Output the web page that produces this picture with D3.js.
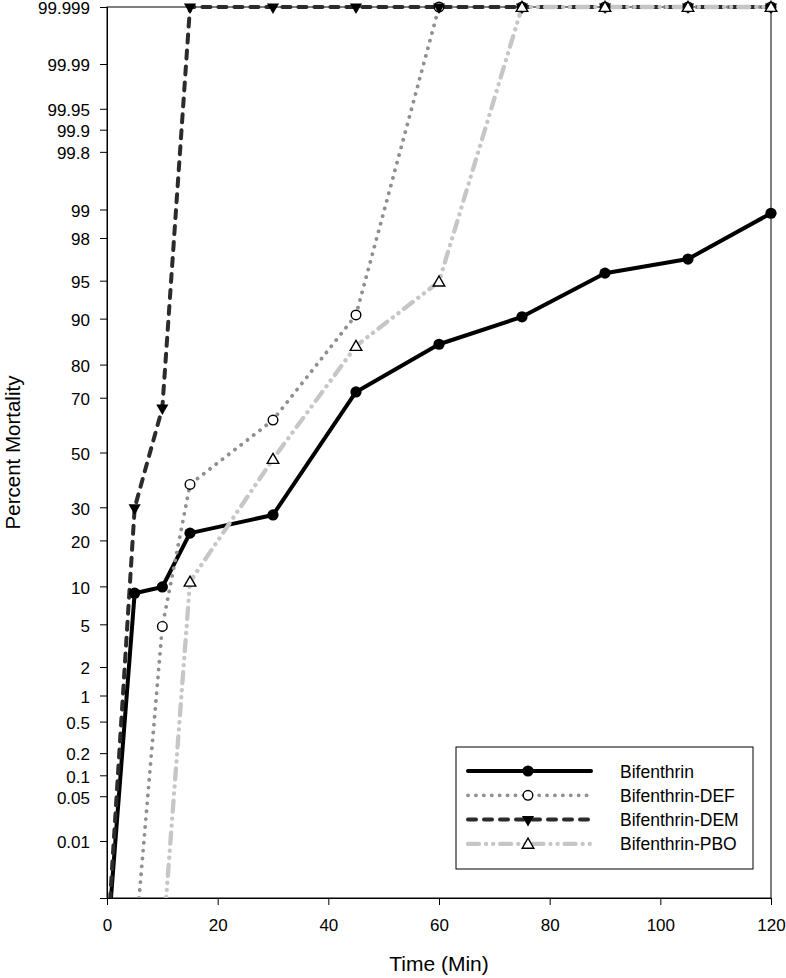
<!DOCTYPE html>
<html><head><meta charset="utf-8">
<script src="https://cdn.jsdelivr.net/npm/d3@7"></script>
<style>
body{margin:0;background:#fff;}
text{font-family:"Liberation Sans",Arial,sans-serif;fill:#000;}
</style></head><body>
<svg id="chart" width="786" height="978"></svg>
<script>
// ---- data ----
const times = [0, 5, 10, 15, 30, 45, 60, 75, 90, 105, 120];
const bifenthrin    = [0, 8.9, 9.9, 22.0, 27.5, 71.9, 85.0, 90.3, 95.7, 96.8, 98.9];
const bifenthrinDEF = [0, 0, 4.8, 38.0, 62.2, 90.6, 100, 100, 100, 100, 100];
const bifenthrinDEM = [0, 29.8, 66.5, 100, 100, 100, 100, 100, 100, 100, 100];
const bifenthrinPBO = [0, 0, 0, 10.8, 47.5, 84.6, 94.9, 100, 100, 100, 100];
const seriesNames = ["Bifenthrin", "Bifenthrin-DEF", "Bifenthrin-DEM", "Bifenthrin-PBO"];
const yTickLabels = ["0.01","0.05","0.1","0.2","0.5","1","2","5","10","20","30","50","70","80","90","95","98","99","99.8","99.9","99.95","99.99","99.999"];
const xTicks = [0, 20, 40, 60, 80, 100, 120];

// ---- probit helper (Acklam inverse normal CDF) ----
function probit(p){
  const a=[-3.969683028665376e+01,2.209460984245205e+02,-2.759285104469687e+02,1.383577518672690e+02,-3.066479806614716e+01,2.506628277459239e+00];
  const b=[-5.447609879822406e+01,1.615858368580409e+02,-1.556989798598866e+02,6.680131188771972e+01,-1.328068155288572e+01];
  const c=[-7.784894002430293e-03,-3.223964580411365e-01,-2.400758277161838e+00,-2.549732539343734e+00,4.374664141464968e+00,2.938163982698783e+00];
  const d=[7.784695709041462e-03,3.224671290700398e-01,2.445134137142996e+00,3.754408661907416e+00];
  const pl=0.02425, ph=1-pl;
  let q,r;
  if(p<pl){q=Math.sqrt(-2*Math.log(p));return (((((c[0]*q+c[1])*q+c[2])*q+c[3])*q+c[4])*q+c[5])/((((d[0]*q+d[1])*q+d[2])*q+d[3])*q+1);}
  if(p<=ph){q=p-0.5;r=q*q;return (((((a[0]*r+a[1])*r+a[2])*r+a[3])*r+a[4])*r+a[5])*q/(((((b[0]*r+b[1])*r+b[2])*r+b[3])*r+b[4])*r+1);}
  q=Math.sqrt(-2*Math.log(1-p));return -(((((c[0]*q+c[1])*q+c[2])*q+c[3])*q+c[4])*q+c[5])/((((d[0]*q+d[1])*q+d[2])*q+d[3])*q+1);
}
const pctMin = 0.001, pctMax = 99.999;   // axis limits (percent)
const zeroFloor = 0.0001, fullCap = 99.999; // how 0% and 100% are plotted
function toZ(pct){
  const v = pct <= 0 ? zeroFloor : (pct >= 100 ? fullCap : pct);
  return probit(v/100);
}

// ---- layout ----
const margin = {left:107, top:7, right:15, bottom:80};
const W = 786 - margin.left - margin.right;
const H = 978 - margin.top - margin.bottom;

const svg = d3.select("#chart");
const g = svg.append("g").attr("transform",`translate(${margin.left},${margin.top})`);

const x = d3.scaleLinear().domain([0,120]).range([0,W]);
const z = d3.scaleLinear().domain([probit(pctMin/100), probit(pctMax/100)]).range([H,0]);

// frame
g.append("rect").attr("x",0).attr("y",0).attr("width",W).attr("height",H)
  .attr("fill","none").attr("stroke","#000").attr("stroke-width",1);

// axes
const yAxis = d3.axisLeft(z).tickValues(yTickLabels.map(l=>probit(+l/100)))
  .tickFormat((d,i)=>yTickLabels[i]).tickSize(7).tickPadding(10);
const ya = g.append("g").call(yAxis);
ya.selectAll("text").attr("dy","0.4em");
const xAxis = d3.axisBottom(x).tickValues(xTicks).tickFormat(d3.format("d")).tickSize(7).tickPadding(14);
const xa = g.append("g").attr("transform",`translate(0,${H})`).call(xAxis);
[ya,xa].forEach(a=>{
  a.selectAll("text").style("font-size","17px").attr("fill","#000").style("font-family",'"Liberation Sans",Arial,sans-serif');
  a.selectAll("line,path").attr("stroke","#000").attr("stroke-width",1);
});

// titles
svg.append("text").attr("transform",`translate(19.5,${margin.top+H/2}) rotate(-90)`)
  .attr("text-anchor","middle").style("font-size","20.5px").text("Percent Mortality");
svg.append("text").attr("x",margin.left+W/2).attr("y",971)
  .attr("text-anchor","middle").style("font-size","21px").text("Time (Min)");

// clip
svg.append("defs").append("clipPath").attr("id","clip").append("rect")
  .attr("x",-2).attr("y",-6).attr("width",W+8).attr("height",H+6);

const styles = [
  {values:bifenthrin,    color:"#000000", width:4,   dash:null,                  cap:"round", marker:"circle",  fill:"#000"},
  {values:bifenthrinDEF, color:"#8f8f8f", width:3.8, dash:"0.1 7.8",             cap:"round", marker:"circle",  fill:"#fff"},
  {values:bifenthrinDEM, color:"#2b2b2b", width:4,   dash:"8 8",                 cap:"round", marker:"tridown", fill:"#000"},
  {values:bifenthrinPBO, color:"#c6c6c6", width:4.3, dash:"11 7 0.1 7 0.1 7",    cap:"round", marker:"triup",   fill:"#fff"}
];

const line = d3.line().x((d,i)=>x(times[i])).y(d=>z(toZ(d)));

const lines = g.append("g").attr("clip-path","url(#clip)");
styles.forEach(s=>{
  lines.append("path").datum(s.values).attr("d",line)
    .attr("fill","none").attr("stroke",s.color).attr("stroke-width",s.width)
    .attr("stroke-dasharray",s.dash).attr("stroke-linecap",s.cap).attr("stroke-linejoin","round");
});

function drawMarker(sel, s){
  if(s.marker==="circle"){
    if(s.fill==="#000") sel.append("circle").attr("r",5.6).attr("fill","#000");
    else sel.append("circle").attr("r",4.8).attr("fill","#fff").attr("stroke","#000").attr("stroke-width",1.4);
  } else if(s.marker==="tridown"){
    sel.append("path").attr("d",d3.symbol(d3.symbolTriangle,64)()).attr("transform","rotate(180)")
      .attr("fill","#000");
  } else {
    sel.append("path").attr("d",d3.symbol(d3.symbolTriangle,58)()).attr("transform","translate(0,1)")
      .attr("fill","#fff").attr("stroke","#000").attr("stroke-width",1.4);
  }
}

styles.forEach(s=>{
  s.values.forEach((v,i)=>{
    if(v<=0) return;
    const m = g.append("g").attr("transform",`translate(${x(times[i])},${z(toZ(v))})`);
    drawMarker(m,s);
  });
});

// legend
const lg = svg.append("g");
lg.append("rect").attr("x",456).attr("y",747).attr("width",297).attr("height",122)
  .attr("fill","#fff").attr("stroke","#000").attr("stroke-width",1);
styles.forEach((s,i)=>{
  const yy = 771 + i*24.3;
  lg.append("line").attr("x1",468).attr("x2",591).attr("y1",yy).attr("y2",yy)
    .attr("stroke",s.color).attr("stroke-width",s.width).attr("stroke-dasharray",s.dash)
    .attr("stroke-linecap",s.cap);
  const m = lg.append("g").attr("transform",`translate(528,${yy})`);
  drawMarker(m,s);
  lg.append("text").attr("x",620).attr("y",yy+6.5).style("font-size","17.5px").text(seriesNames[i]);
});
</script>
</body></html>
